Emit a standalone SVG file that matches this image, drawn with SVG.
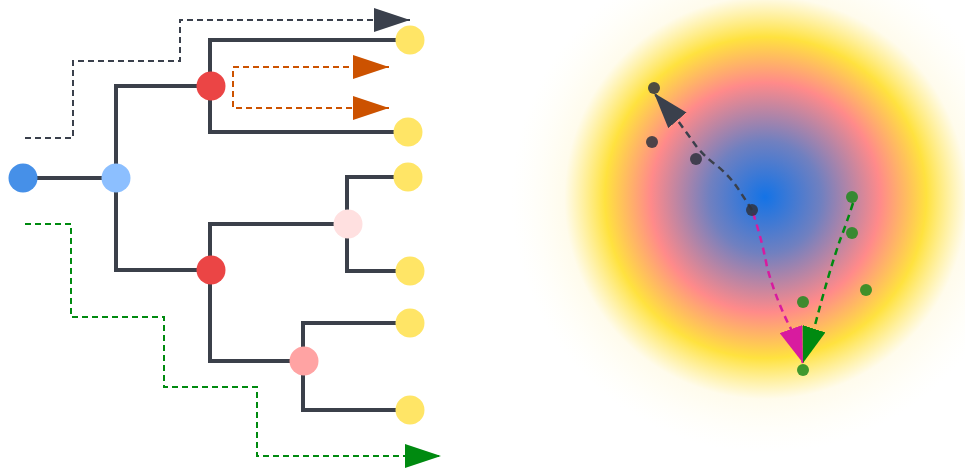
<svg xmlns="http://www.w3.org/2000/svg" width="965" height="472" viewBox="0 0 965 472">
<style>
.edge{fill:none;stroke:#3b404a;stroke-width:4;stroke-linejoin:miter}
.dash{fill:none;stroke-width:2;stroke-dasharray:6 4}
.rdash{fill:none;stroke-width:2.5;stroke-dasharray:7 5}
.dk{fill:#2f3340;fill-opacity:0.85}
.gr{fill:#1f8a1f;fill-opacity:0.85}
</style>
<defs>
<radialGradient id="halo" gradientUnits="userSpaceOnUse" cx="766" cy="198" r="255" fx="765" fy="197">
<stop offset="0" stop-color="#1473e6"/>
<stop offset="0.22" stop-color="#7080c0"/>
<stop offset="0.45" stop-color="#ff8a8a"/>
<stop offset="0.63" stop-color="#ffe23f"/>
<stop offset="0.79" stop-color="#fffbea" stop-opacity="0.9"/>
<stop offset="1" stop-color="#fffef6" stop-opacity="0"/>
</radialGradient>
<marker id="ah-dark" markerUnits="userSpaceOnUse" markerWidth="36" markerHeight="24" refX="36" refY="12" orient="auto" viewBox="0 0 36 24"><path d="M0,0 L36,12 L0,24 z" fill="#3a404c"/></marker>
<marker id="ah-orange" markerUnits="userSpaceOnUse" markerWidth="36" markerHeight="24" refX="36" refY="12" orient="auto-start-reverse" viewBox="0 0 36 24"><path d="M0,0 L36,12 L0,24 z" fill="#cc5200"/></marker>
<marker id="ah-green" markerUnits="userSpaceOnUse" markerWidth="36" markerHeight="24" refX="36" refY="12" orient="auto" viewBox="0 0 36 24"><path d="M0,0 L36,12 L0,24 z" fill="#008a10"/></marker>
<marker id="ah-mag" markerUnits="userSpaceOnUse" markerWidth="36" markerHeight="24" refX="36" refY="12" orient="auto" viewBox="0 0 36 24"><path d="M0,0 L36,12 L0,24 z" fill="#d81b9f"/></marker>
</defs>
<rect width="965" height="472" fill="#ffffff"/>
<circle cx="766" cy="198" r="255" fill="url(#halo)"/>
<g id="connectors">
<path class="edge" d="M23,178 H116"/>
<path class="edge" d="M116,178 V86 H210"/>
<path class="edge" d="M116,178 V270 H210"/>
<path class="edge" d="M210,86 V40 H409"/>
<path class="edge" d="M210,86 V132 H408"/>
<path class="edge" d="M210,270 V224 H347"/>
<path class="edge" d="M210,270 V361 H304"/>
<path class="edge" d="M347,224 V177 H408"/>
<path class="edge" d="M347,224 V271 H410"/>
<path class="edge" d="M303,361 V323 H410"/>
<path class="edge" d="M303,361 V410 H410"/>
<path class="dash" stroke="#3a404c" d="M25,138 H73 V61 H180 V20 H410" marker-end="url(#ah-dark)"/>
<path class="dash" stroke="#cc5200" d="M389,67 H233 V108 H389" marker-start="url(#ah-orange)" marker-end="url(#ah-orange)"/>
<path class="dash" stroke="#008a10" d="M25,224 H71 V317 H164 V387 H257 V456 H441" marker-end="url(#ah-green)"/>
<path class="rdash" stroke="#3a404c" d="M752,210 L739,190 Q730,176 716,165 Q700,153 692,140 L678,121 L654,93" marker-end="url(#ah-dark)"/>
<path class="rdash" stroke="#d81b9f" d="M753,213 Q762,240 767,267 Q776,300 791,329 L803,363" marker-end="url(#ah-mag)"/>
<path class="rdash" stroke="#008a10" d="M853,203 Q846,225 840,240 Q828,275 814,329 L803,363" marker-end="url(#ah-green)"/>
</g>
<g id="n-root"><circle cx="23" cy="178" r="14.5" fill="#4690e8"/></g>
<g id="n-a"><circle cx="116" cy="178" r="14.5" fill="#8cbfff"/></g>
<g id="n-b"><circle cx="211" cy="86" r="14.5" fill="#eb4545"/></g>
<g id="n-c"><circle cx="211" cy="270" r="14.5" fill="#eb4545"/></g>
<g id="n-d"><circle cx="348" cy="224" r="14.5" fill="#ffe0e0"/></g>
<g id="n-e"><circle cx="304" cy="361" r="14.5" fill="#ffa3a3"/></g>
<g id="leaf1"><circle cx="410" cy="40" r="14.5" fill="#ffe566"/></g>
<g id="leaf2"><circle cx="408" cy="132" r="14.5" fill="#ffe566"/></g>
<g id="leaf3"><circle cx="408" cy="177" r="14.5" fill="#ffe566"/></g>
<g id="leaf4"><circle cx="410" cy="271" r="14.5" fill="#ffe566"/></g>
<g id="leaf5"><circle cx="410" cy="323" r="14.5" fill="#ffe566"/></g>
<g id="leaf6"><circle cx="410" cy="410" r="14.5" fill="#ffe566"/></g>
<g id="p-dark">
<circle class="dk" cx="654" cy="88" r="6"/>
<circle class="dk" cx="652" cy="142" r="6"/>
<circle class="dk" cx="696" cy="159" r="6"/>
<circle class="dk" cx="752" cy="210" r="6"/>
</g>
<g id="p-green">
<circle class="gr" cx="852" cy="197" r="6"/>
<circle class="gr" cx="852" cy="233" r="6"/>
<circle class="gr" cx="866" cy="290" r="6"/>
<circle class="gr" cx="803" cy="302" r="6"/>
<circle class="gr" cx="803" cy="370" r="6"/>
</g>
</svg>
